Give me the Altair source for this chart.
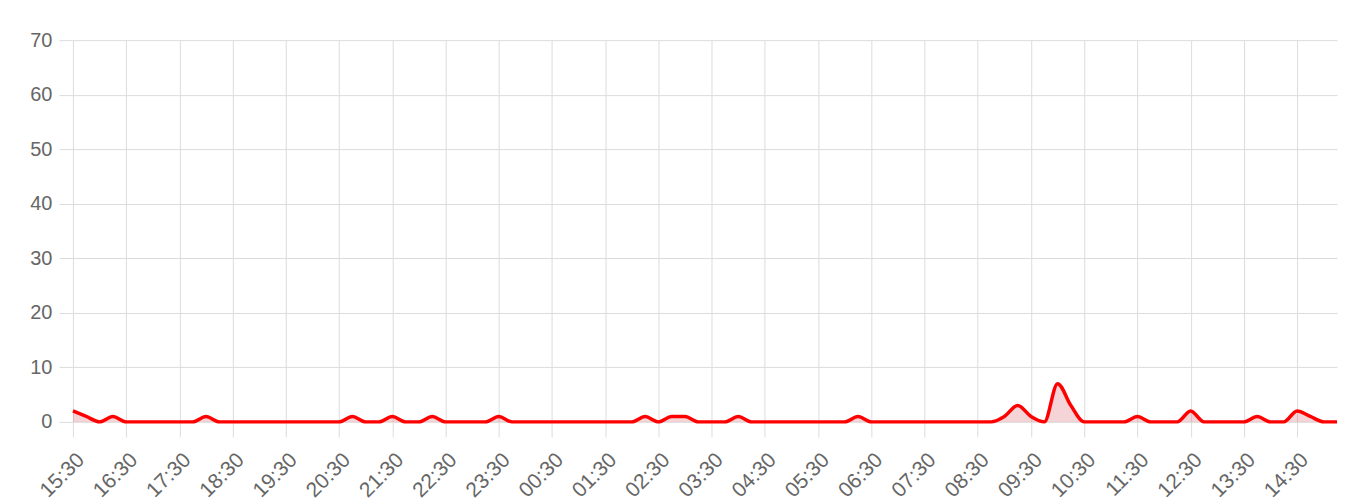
import altair as alt
import pandas as pd

# 15-minute samples from 15:30 to 15:15 next day
start_minutes = 15 * 60 + 30
times = [f"{((start_minutes + 15 * i) // 60) % 24:02d}:{(start_minutes + 15 * i) % 60:02d}" for i in range(96)]

values = [
    2, 1, 0, 1, 0, 0, 0, 0, 0, 0, 1, 0,      # 15:30 - 18:15
    0, 0, 0, 0, 0, 0, 0, 0, 0, 1, 0, 0,      # 18:30 - 21:15
    1, 0, 0, 1, 0, 0, 0, 0, 1, 0, 0, 0,      # 21:30 - 00:15
    0, 0, 0, 0, 0, 0, 0, 1, 0, 1, 1, 0,      # 00:30 - 03:15
    0, 0, 1, 0, 0, 0, 0, 0, 0, 0, 0, 1,      # 03:30 - 06:15
    0, 0, 0, 0, 0, 0, 0, 0, 0, 0, 1, 3,      # 06:30 - 09:15
    1, 0, 7, 3, 0, 0, 0, 0, 1, 0, 0, 0,      # 09:30 - 12:15
    2, 0, 0, 0, 0, 1, 0, 0, 2, 1, 0, 0,      # 12:30 - 15:15
]

tick_labels = ["15:30", "16:30", "17:30", "18:30", "19:30", "20:30", "21:30", "22:30",
               "23:30", "00:30", "01:30", "02:30", "03:30", "04:30", "05:30", "06:30",
               "07:30", "08:30", "09:30", "10:30", "11:30", "12:30", "13:30", "14:30"]
y_ticks = [0, 10, 20, 30, 40, 50, 60, 70]

df = pd.DataFrame({"time": times, "value": values})

x_enc = alt.X(
    "time:O",
    sort=times,
    scale=alt.Scale(type="point", padding=0),
    axis=alt.Axis(values=tick_labels, labelAngle=-45, tickSize=15, labelPadding=12,
                  labelFontSize=21, grid=True, domain=False, title=None),
)
y_enc = alt.Y(
    "value:Q",
    scale=alt.Scale(domain=[0, 70], nice=False, zero=True),
    axis=alt.Axis(values=y_ticks, tickSize=14, labelPadding=7, grid=True, domain=False, title=None),
)

area = alt.Chart(df).mark_area(interpolate="monotone", color="rgb(200,40,50)", opacity=0.2).encode(
    x=x_enc, y=y_enc
)
line = alt.Chart(df).mark_line(interpolate="monotone", color="#ff0000", strokeWidth=3.5).encode(
    x=x_enc, y=y_enc
)

chart = (
    alt.layer(area, line)
    .properties(width=1265, height=382,
                autosize=alt.AutoSizeParams(type="none"),
                padding={"left": 65, "top": 32, "right": 15, "bottom": 80})
    .configure_view(strokeWidth=0)
    .configure_axis(
        gridColor="#dcdcdc", tickColor="#dcdcdc", gridWidth=1, tickWidth=1,
        labelColor="#666666", labelFont="Liberation Sans", labelFontSize=20,
    )
)

chart.save("out.html", embed_options={"renderer": "svg", "actions": False})
